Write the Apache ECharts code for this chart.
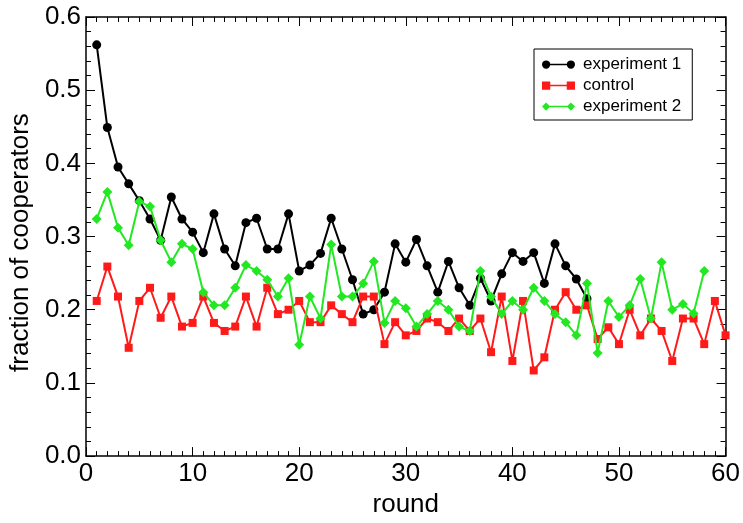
<!DOCTYPE html>
<html>
<head>
<meta charset="utf-8">
<script src="https://cdn.jsdelivr.net/npm/echarts@6/dist/echarts.min.js"></script>
<style>html,body{margin:0;padding:0;background:#fff}#c{width:743px;height:523px}</style>
</head>
<body>
<div id="c"></div>
<script>
const seriesNames = ['experiment 1', 'control', 'experiment 2'];
const experiment1 = [0.562,0.449,0.395,0.372,0.349,0.324,0.295,0.354,0.324,0.306,
  0.278,0.331,0.283,0.260,0.319,0.325,0.283,0.283,0.331,0.253,
  0.261,0.277,0.325,0.283,0.241,0.194,0.200,0.224,0.290,0.265,
  0.296,0.260,0.224,0.266,0.230,0.206,0.243,0.212,0.249,0.278,
  0.266,0.278,0.236,0.290,0.260,0.242,0.215];
const control = [0.212,0.259,0.218,0.148,0.212,0.230,0.189,0.218,0.177,0.182,
  0.218,0.182,0.171,0.177,0.218,0.177,0.230,0.194,0.200,0.212,
  0.183,0.183,0.206,0.194,0.183,0.218,0.218,0.153,0.183,0.165,
  0.171,0.188,0.183,0.171,0.188,0.171,0.188,0.142,0.218,0.130,
  0.212,0.117,0.135,0.200,0.224,0.200,0.206,0.160,0.176,0.153,
  0.200,0.165,0.188,0.171,0.130,0.188,0.188,0.153,0.212,0.165];
const experiment2 = [0.324,0.361,0.312,0.288,0.348,0.341,0.295,0.265,0.290,0.283,
  0.224,0.206,0.206,0.230,0.261,0.253,0.241,0.218,0.243,0.152,
  0.218,0.188,0.289,0.218,0.218,0.236,0.266,0.182,0.212,0.202,
  0.177,0.194,0.212,0.200,0.177,0.171,0.253,0.218,0.194,0.212,
  0.200,0.230,0.212,0.194,0.183,0.165,0.236,0.141,0.212,0.190,
  0.206,0.242,0.188,0.265,0.200,0.208,0.195,0.253];
const xTicks = [0,10,20,30,40,50,60];
const yTicks = [0.0,0.1,0.2,0.3,0.4,0.5,0.6];

const toPairs = arr => arr.map((v, i) => [i + 1, v]);
const font = 'Liberation Sans, Arial, Helvetica, sans-serif';
const colors = ['#000000', '#ff1a1a', '#22e822'];
const symbols = ['circle', 'rect', 'diamond'];
const icons = [
  'path://M0,5A5,5 0 1,1 10,5A5,5 0 1,1 0,5Z M9,4L31,4L31,6L9,6Z M30,5A5,5 0 1,1 40,5A5,5 0 1,1 30,5Z',
  'path://M0,0L10,0L10,10L0,10Z M9,4L31,4L31,6L9,6Z M30,0L40,0L40,10L30,10Z',
  'path://M0,5L5,0L10,5L5,10Z M9,4L31,4L31,6L9,6Z M30,5L35,0L40,5L35,10Z'
];
const datasets = [experiment1, control, experiment2];

const baseX = {
  type: 'value', min: xTicks[0], max: xTicks[xTicks.length - 1], interval: 10,
  axisLine: { show: true, onZero: false, lineStyle: { color: '#000', width: 1.5 } },
  axisTick: { show: true, inside: true, length: 9, lineStyle: { color: '#000', width: 1 } },
  minorTick: { show: true, splitNumber: 10, length: 5, lineStyle: { color: '#000', width: 1 } },
  splitLine: { show: false }
};
const baseY = {
  type: 'value', min: yTicks[0], max: yTicks[yTicks.length - 1], interval: 0.1,
  axisLine: { show: true, onZero: false, lineStyle: { color: '#000', width: 1.5 } },
  axisTick: { show: true, inside: true, length: 9, lineStyle: { color: '#000', width: 1 } },
  minorTick: { show: true, splitNumber: 5, length: 5, lineStyle: { color: '#000', width: 1 } },
  splitLine: { show: false }
};

const chart = echarts.init(document.getElementById('c'), null, { renderer: 'canvas' });
chart.setOption({
  animation: false,
  backgroundColor: '#fff',
  grid: { left: 85, right: 13, top: 17, bottom: 57, containLabel: false },
  legend: {
    orient: 'vertical', left: 534, top: 49,
    data: seriesNames.map((n, i) => ({ name: n, icon: icons[i] })),
    itemWidth: 33, itemHeight: 9, itemGap: 4,
    padding: [7, 11, 5, 8],
    borderColor: '#000', borderWidth: 1, backgroundColor: '#fff',
    textStyle: { fontFamily: font, fontSize: 17, color: '#000', padding: [0, 0, 0, 3] }
  },
  xAxis: [
    Object.assign({}, baseX, {
      position: 'bottom',
      name: 'round', nameLocation: 'middle', nameGap: 31,
      nameTextStyle: { fontFamily: font, fontSize: 26, color: '#000' },
      axisLabel: { show: true, margin: 5, fontFamily: font, fontSize: 26, color: '#000' }
    }),
    Object.assign({}, baseX, { position: 'top', axisLabel: { show: false } })
  ],
  yAxis: [
    Object.assign({}, baseY, {
      position: 'left',
      name: 'fraction of cooperators', nameLocation: 'middle', nameGap: 50,
      nameTextStyle: { fontFamily: font, fontSize: 26, color: '#000', padding: [0, 12, 0, 0] },
      axisLabel: { show: true, margin: 5, fontFamily: font, fontSize: 26, color: '#000',
        formatter: v => v.toFixed(1) }
    }),
    Object.assign({}, baseY, { position: 'right', axisLabel: { show: false } })
  ],
  series: datasets.map((d, i) => ({
    name: seriesNames[i], type: 'line', data: toPairs(d),
    xAxisIndex: 0, yAxisIndex: 0,
    symbol: symbols[i], symbolSize: symbols[i] === 'diamond' ? 10 : (symbols[i] === 'rect' ? 8 : 9),
    showAllSymbol: true,
    lineStyle: { color: colors[i], width: 2 },
    itemStyle: { color: colors[i] },
    z: 2 + i
  }))
});
</script>
</body>
</html>
